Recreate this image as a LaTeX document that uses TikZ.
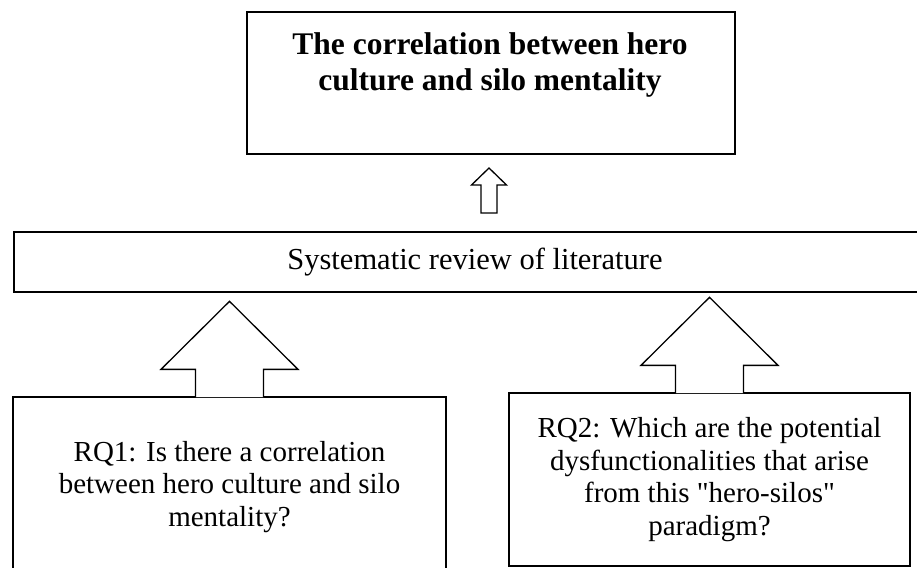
\documentclass[tikz,border=0pt]{standalone}
\usepackage{fontspec}
\setmainfont{Liberation Serif}
\usetikzlibrary{calc}

\begin{document}
\begin{tikzpicture}[
    x=1pt, y=-1pt,
    box/.style={rectangle, draw, line width=1.3pt, inner sep=0pt},
    bodytext/.style={align=center, font=\fontsize{29}{32.5}\selectfont},
    titletext/.style={align=center, font=\fontsize{31.5}{35.5}\selectfont\bfseries},
    blockarrow/.style={draw, fill=white, line width=1.3pt, line join=miter}
]
\clip (0,0) rectangle (917,567);

% Result
\node[box, minimum width=488pt, minimum height=142pt] (result) at (491,83) {};
\node[titletext] (resulttext) at (490,65) {The correlation between hero\\culture and silo mentality};

% Review
\node[box, minimum width=922pt, minimum height=60pt, font=\fontsize{30.5}{34}\selectfont] (review) at (475,262) {Systematic review of literature};

% Questions
\node[box, bodytext, minimum width=433pt, minimum height=180pt] (rq1) at (229.5,487) {RQ1: Is there a correlation\\between hero culture and silo\\mentality?};
\node[box, bodytext, minimum width=401pt, minimum height=173pt] (rq2) at (709.5,479.5) {RQ2: Which are the potential\\dysfunctionalities that arise\\from this \textquotedbl hero-silos\textquotedbl\\paradigm?};

% Arrows
\coordinate (uptip) at (489,168);
\draw[blockarrow] (uptip) -- ++(17.5,17) -- ++(-9.5,0) -- ++(0,28) -- ++(-16,0) -- ++(0,-28) -- ++(-9.5,0) -- cycle;

\draw[blockarrow] ($(rq1.north)+(-34,0.7)$) -- ++(0,-27.7) -- ++(-34.5,0) -- ($(rq1.north)+(0,-95)$) -- ++(68.5,68) -- ++(-34.5,0) -- ++(0,27.7);
\draw[blockarrow] ($(rq2.north)+(-34,0.7)$) -- ++(0,-27.7) -- ++(-34.5,0) -- ($(rq2.north)+(0,-95)$) -- ++(68.5,68) -- ++(-34.5,0) -- ++(0,27.7);

\end{tikzpicture}
\end{document}
